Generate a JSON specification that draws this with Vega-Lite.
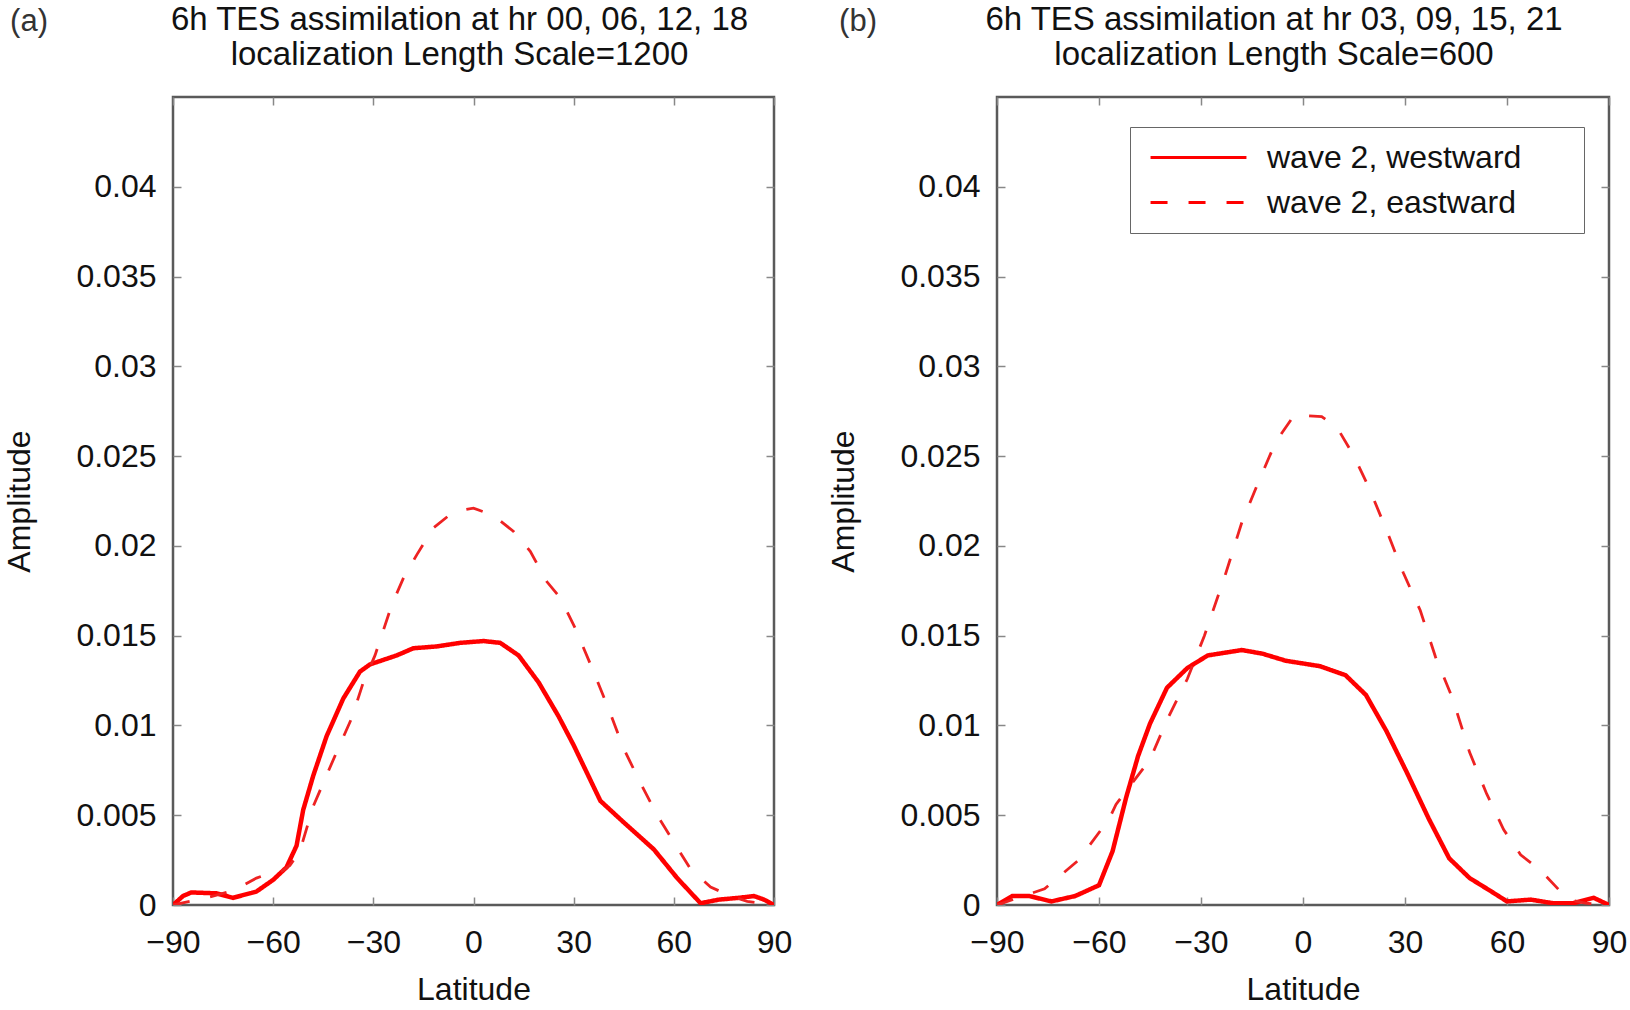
{
  "$schema": "https://vega.github.io/schema/vega-lite/v6.json",
  "background": "white",
  "padding": {"left": 2, "top": 2, "right": 2, "bottom": 2},
  "datasets": {
    "amp": [
      {"panel": "a", "series": "wave 2, westward", "lat": -90, "amp": 0},
      {"panel": "a", "series": "wave 2, westward", "lat": -87, "amp": 0.0005},
      {"panel": "a", "series": "wave 2, westward", "lat": -84.5, "amp": 0.0007},
      {"panel": "a", "series": "wave 2, westward", "lat": -77, "amp": 0.00065},
      {"panel": "a", "series": "wave 2, westward", "lat": -72, "amp": 0.0004},
      {"panel": "a", "series": "wave 2, westward", "lat": -65, "amp": 0.00075},
      {"panel": "a", "series": "wave 2, westward", "lat": -60, "amp": 0.0014},
      {"panel": "a", "series": "wave 2, westward", "lat": -56, "amp": 0.0021},
      {"panel": "a", "series": "wave 2, westward", "lat": -53, "amp": 0.0033},
      {"panel": "a", "series": "wave 2, westward", "lat": -51, "amp": 0.0053},
      {"panel": "a", "series": "wave 2, westward", "lat": -48, "amp": 0.0072},
      {"panel": "a", "series": "wave 2, westward", "lat": -44, "amp": 0.0094},
      {"panel": "a", "series": "wave 2, westward", "lat": -39, "amp": 0.0115},
      {"panel": "a", "series": "wave 2, westward", "lat": -34, "amp": 0.013},
      {"panel": "a", "series": "wave 2, westward", "lat": -31, "amp": 0.0134},
      {"panel": "a", "series": "wave 2, westward", "lat": -23, "amp": 0.0139},
      {"panel": "a", "series": "wave 2, westward", "lat": -18, "amp": 0.0143},
      {"panel": "a", "series": "wave 2, westward", "lat": -11, "amp": 0.0144},
      {"panel": "a", "series": "wave 2, westward", "lat": -4, "amp": 0.0146},
      {"panel": "a", "series": "wave 2, westward", "lat": 3, "amp": 0.0147},
      {"panel": "a", "series": "wave 2, westward", "lat": 8, "amp": 0.0146},
      {"panel": "a", "series": "wave 2, westward", "lat": 13.5, "amp": 0.0139},
      {"panel": "a", "series": "wave 2, westward", "lat": 19.5, "amp": 0.0124},
      {"panel": "a", "series": "wave 2, westward", "lat": 25.5, "amp": 0.0105},
      {"panel": "a", "series": "wave 2, westward", "lat": 30, "amp": 0.0089},
      {"panel": "a", "series": "wave 2, westward", "lat": 38, "amp": 0.0058},
      {"panel": "a", "series": "wave 2, westward", "lat": 45, "amp": 0.0046},
      {"panel": "a", "series": "wave 2, westward", "lat": 54, "amp": 0.0031},
      {"panel": "a", "series": "wave 2, westward", "lat": 61, "amp": 0.0015},
      {"panel": "a", "series": "wave 2, westward", "lat": 68, "amp": 0.0001},
      {"panel": "a", "series": "wave 2, westward", "lat": 73.5, "amp": 0.0003},
      {"panel": "a", "series": "wave 2, westward", "lat": 79.5, "amp": 0.0004},
      {"panel": "a", "series": "wave 2, westward", "lat": 84, "amp": 0.0005},
      {"panel": "a", "series": "wave 2, westward", "lat": 87, "amp": 0.0003},
      {"panel": "a", "series": "wave 2, westward", "lat": 90, "amp": 0},
      {"panel": "a", "series": "wave 2, eastward", "lat": -90, "amp": 0},
      {"panel": "a", "series": "wave 2, eastward", "lat": -85, "amp": 0.0002},
      {"panel": "a", "series": "wave 2, eastward", "lat": -80, "amp": 0.0004},
      {"panel": "a", "series": "wave 2, eastward", "lat": -72, "amp": 0.0008},
      {"panel": "a", "series": "wave 2, eastward", "lat": -65, "amp": 0.0015},
      {"panel": "a", "series": "wave 2, eastward", "lat": -62, "amp": 0.0017},
      {"panel": "a", "series": "wave 2, eastward", "lat": -58, "amp": 0.0018},
      {"panel": "a", "series": "wave 2, eastward", "lat": -55, "amp": 0.0022},
      {"panel": "a", "series": "wave 2, eastward", "lat": -52, "amp": 0.003},
      {"panel": "a", "series": "wave 2, eastward", "lat": -48, "amp": 0.0055},
      {"panel": "a", "series": "wave 2, eastward", "lat": -41.5, "amp": 0.0083},
      {"panel": "a", "series": "wave 2, eastward", "lat": -36.5, "amp": 0.0104},
      {"panel": "a", "series": "wave 2, eastward", "lat": -33, "amp": 0.0124},
      {"panel": "a", "series": "wave 2, eastward", "lat": -29.5, "amp": 0.0139},
      {"panel": "a", "series": "wave 2, eastward", "lat": -24.5, "amp": 0.0167},
      {"panel": "a", "series": "wave 2, eastward", "lat": -21, "amp": 0.0182},
      {"panel": "a", "series": "wave 2, eastward", "lat": -17, "amp": 0.0195},
      {"panel": "a", "series": "wave 2, eastward", "lat": -12, "amp": 0.021},
      {"panel": "a", "series": "wave 2, eastward", "lat": -6, "amp": 0.0219},
      {"panel": "a", "series": "wave 2, eastward", "lat": 0, "amp": 0.0221},
      {"panel": "a", "series": "wave 2, eastward", "lat": 6, "amp": 0.0217},
      {"panel": "a", "series": "wave 2, eastward", "lat": 12, "amp": 0.0208},
      {"panel": "a", "series": "wave 2, eastward", "lat": 17, "amp": 0.0197},
      {"panel": "a", "series": "wave 2, eastward", "lat": 22, "amp": 0.018},
      {"panel": "a", "series": "wave 2, eastward", "lat": 26, "amp": 0.0171},
      {"panel": "a", "series": "wave 2, eastward", "lat": 30.5, "amp": 0.0154},
      {"panel": "a", "series": "wave 2, eastward", "lat": 35.5, "amp": 0.0132},
      {"panel": "a", "series": "wave 2, eastward", "lat": 40.5, "amp": 0.0109},
      {"panel": "a", "series": "wave 2, eastward", "lat": 45, "amp": 0.0087},
      {"panel": "a", "series": "wave 2, eastward", "lat": 50, "amp": 0.0068},
      {"panel": "a", "series": "wave 2, eastward", "lat": 55, "amp": 0.005},
      {"panel": "a", "series": "wave 2, eastward", "lat": 60, "amp": 0.0035},
      {"panel": "a", "series": "wave 2, eastward", "lat": 65, "amp": 0.002},
      {"panel": "a", "series": "wave 2, eastward", "lat": 71, "amp": 0.001},
      {"panel": "a", "series": "wave 2, eastward", "lat": 77, "amp": 0.0005},
      {"panel": "a", "series": "wave 2, eastward", "lat": 82, "amp": 0.0002},
      {"panel": "a", "series": "wave 2, eastward", "lat": 90, "amp": 0},
      {"panel": "b", "series": "wave 2, westward", "lat": -90, "amp": 0},
      {"panel": "b", "series": "wave 2, westward", "lat": -85.5, "amp": 0.0005},
      {"panel": "b", "series": "wave 2, westward", "lat": -80.5, "amp": 0.0005},
      {"panel": "b", "series": "wave 2, westward", "lat": -74, "amp": 0.0002},
      {"panel": "b", "series": "wave 2, westward", "lat": -67, "amp": 0.0005},
      {"panel": "b", "series": "wave 2, westward", "lat": -60, "amp": 0.0011},
      {"panel": "b", "series": "wave 2, westward", "lat": -56, "amp": 0.003},
      {"panel": "b", "series": "wave 2, westward", "lat": -52, "amp": 0.006},
      {"panel": "b", "series": "wave 2, westward", "lat": -48.5, "amp": 0.0083},
      {"panel": "b", "series": "wave 2, westward", "lat": -45, "amp": 0.0101},
      {"panel": "b", "series": "wave 2, westward", "lat": -40, "amp": 0.0121},
      {"panel": "b", "series": "wave 2, westward", "lat": -34, "amp": 0.0132},
      {"panel": "b", "series": "wave 2, westward", "lat": -28, "amp": 0.0139},
      {"panel": "b", "series": "wave 2, westward", "lat": -18, "amp": 0.0142},
      {"panel": "b", "series": "wave 2, westward", "lat": -12, "amp": 0.014},
      {"panel": "b", "series": "wave 2, westward", "lat": -5, "amp": 0.0136},
      {"panel": "b", "series": "wave 2, westward", "lat": 5, "amp": 0.0133},
      {"panel": "b", "series": "wave 2, westward", "lat": 12.5, "amp": 0.0128},
      {"panel": "b", "series": "wave 2, westward", "lat": 18.5, "amp": 0.0117},
      {"panel": "b", "series": "wave 2, westward", "lat": 24.5, "amp": 0.0097},
      {"panel": "b", "series": "wave 2, westward", "lat": 30.5, "amp": 0.0074},
      {"panel": "b", "series": "wave 2, westward", "lat": 37, "amp": 0.0048},
      {"panel": "b", "series": "wave 2, westward", "lat": 43, "amp": 0.0026},
      {"panel": "b", "series": "wave 2, westward", "lat": 49, "amp": 0.0015},
      {"panel": "b", "series": "wave 2, westward", "lat": 55, "amp": 0.0008},
      {"panel": "b", "series": "wave 2, westward", "lat": 60, "amp": 0.0002},
      {"panel": "b", "series": "wave 2, westward", "lat": 67, "amp": 0.0003},
      {"panel": "b", "series": "wave 2, westward", "lat": 73.5, "amp": 0.0001},
      {"panel": "b", "series": "wave 2, westward", "lat": 79.5, "amp": 0.0001},
      {"panel": "b", "series": "wave 2, westward", "lat": 85.5, "amp": 0.0004},
      {"panel": "b", "series": "wave 2, westward", "lat": 90, "amp": 0},
      {"panel": "b", "series": "wave 2, eastward", "lat": -90, "amp": 0},
      {"panel": "b", "series": "wave 2, eastward", "lat": -76, "amp": 0.0009},
      {"panel": "b", "series": "wave 2, eastward", "lat": -66, "amp": 0.0025},
      {"panel": "b", "series": "wave 2, eastward", "lat": -57, "amp": 0.0048},
      {"panel": "b", "series": "wave 2, eastward", "lat": -55, "amp": 0.0056},
      {"panel": "b", "series": "wave 2, eastward", "lat": -45, "amp": 0.0081},
      {"panel": "b", "series": "wave 2, eastward", "lat": -40, "amp": 0.0103},
      {"panel": "b", "series": "wave 2, eastward", "lat": -34, "amp": 0.0126},
      {"panel": "b", "series": "wave 2, eastward", "lat": -29, "amp": 0.015},
      {"panel": "b", "series": "wave 2, eastward", "lat": -23, "amp": 0.0183},
      {"panel": "b", "series": "wave 2, eastward", "lat": -18, "amp": 0.0213},
      {"panel": "b", "series": "wave 2, eastward", "lat": -13, "amp": 0.0236},
      {"panel": "b", "series": "wave 2, eastward", "lat": -8, "amp": 0.0258},
      {"panel": "b", "series": "wave 2, eastward", "lat": -2.5, "amp": 0.0273},
      {"panel": "b", "series": "wave 2, eastward", "lat": 5.5, "amp": 0.0272},
      {"panel": "b", "series": "wave 2, eastward", "lat": 10, "amp": 0.0266},
      {"panel": "b", "series": "wave 2, eastward", "lat": 15, "amp": 0.025},
      {"panel": "b", "series": "wave 2, eastward", "lat": 19.5, "amp": 0.0232},
      {"panel": "b", "series": "wave 2, eastward", "lat": 24.5, "amp": 0.0209},
      {"panel": "b", "series": "wave 2, eastward", "lat": 29.5, "amp": 0.0185},
      {"panel": "b", "series": "wave 2, eastward", "lat": 34.5, "amp": 0.0164},
      {"panel": "b", "series": "wave 2, eastward", "lat": 39, "amp": 0.0138},
      {"panel": "b", "series": "wave 2, eastward", "lat": 44, "amp": 0.0115},
      {"panel": "b", "series": "wave 2, eastward", "lat": 49, "amp": 0.0085},
      {"panel": "b", "series": "wave 2, eastward", "lat": 54, "amp": 0.0062},
      {"panel": "b", "series": "wave 2, eastward", "lat": 59, "amp": 0.0042},
      {"panel": "b", "series": "wave 2, eastward", "lat": 64, "amp": 0.0028},
      {"panel": "b", "series": "wave 2, eastward", "lat": 70, "amp": 0.0019},
      {"panel": "b", "series": "wave 2, eastward", "lat": 75, "amp": 0.0009},
      {"panel": "b", "series": "wave 2, eastward", "lat": 78, "amp": 0.0003},
      {"panel": "b", "series": "wave 2, eastward", "lat": 83, "amp": 0.0001},
      {"panel": "b", "series": "wave 2, eastward", "lat": 90, "amp": 0}
    ]
  },
  "data": {"name": "amp"},
  "spacing": 32,
  "hconcat": [
    {
      "width": 601,
      "height": 808,
      "title": {"text": ["6h TES assimilation at hr 00, 06, 12, 18", "localization Length Scale=1200"], "dx": -14},
      "layer": [
        {
          "transform": [{"filter": "datum.panel == 'a' && datum.series == 'wave 2, westward'"}],
          "mark": {"type": "line", "color": "#ff0000", "strokeWidth": 4.5, "clip": true},
          "encoding": {
            "x": {"field": "lat", "type": "quantitative", "title": "Latitude", "scale": {"domain": [-90, 90], "nice": false}, "axis": {"values": [-90, -60, -30, 0, 30, 60, 90]}},
            "y": {"field": "amp", "type": "quantitative", "title": "Amplitude", "scale": {"domain": [0, 0.045], "nice": false}, "axis": {"values": [0, 0.005, 0.01, 0.015, 0.02, 0.025, 0.03, 0.035, 0.04]}},
            "strokeDash": {"field": "series", "type": "nominal", "scale": {"domain": ["wave 2, westward", "wave 2, eastward"], "range": [[1, 0], [17, 21]]}, "legend": null}
          }
        },
        {
          "transform": [{"filter": "datum.panel == 'a' && datum.series == 'wave 2, eastward'"}],
          "mark": {"type": "line", "color": "#ee2222", "strokeWidth": 2.8, "clip": true},
          "encoding": {
            "x": {"field": "lat", "type": "quantitative", "scale": {"domain": [-90, 90], "nice": false}, "axis": {"orient": "top", "values": [-90, -60, -30, 0, 30, 60, 90], "labels": false, "title": null}},
            "y": {"field": "amp", "type": "quantitative", "scale": {"domain": [0, 0.045], "nice": false}, "axis": {"orient": "right", "values": [0, 0.005, 0.01, 0.015, 0.02, 0.025, 0.03, 0.035, 0.04], "labels": false, "title": null}},
            "strokeDash": {"field": "series", "type": "nominal", "scale": {"domain": ["wave 2, westward", "wave 2, eastward"], "range": [[1, 0], [17, 21]]}, "legend": null}
          }
        },
        {
          "transform": [{"filter": "datum.panel == 'a' && datum.series == 'wave 2, westward' && datum.lat == -90"}],
          "mark": {"type": "text", "text": "(a)", "fontSize": 31, "dx": -144, "dy": -75, "align": "center", "baseline": "middle", "color": "#333"},
          "encoding": {
            "x": {"datum": -90, "type": "quantitative", "scale": {"domain": [-90, 90], "nice": false}, "axis": null},
            "y": {"datum": 0.045, "type": "quantitative", "scale": {"domain": [0, 0.045], "nice": false}, "axis": null}
          }
        }
      ],
      "resolve": {"scale": {"x": "independent", "y": "independent"}, "axis": {"x": "independent", "y": "independent"}}
    },
    {
      "width": 612,
      "height": 808,
      "title": {"text": ["6h TES assimilation at hr 03, 09, 15, 21", "localization Length Scale=600"], "dx": -29},
      "layer": [
        {
          "transform": [{"filter": "datum.panel == 'b' && datum.series == 'wave 2, westward'"}],
          "mark": {"type": "line", "color": "#ff0000", "strokeWidth": 4.5, "clip": true},
          "encoding": {
            "x": {"field": "lat", "type": "quantitative", "title": "Latitude", "scale": {"domain": [-90, 90], "nice": false}, "axis": {"values": [-90, -60, -30, 0, 30, 60, 90]}},
            "y": {"field": "amp", "type": "quantitative", "title": "Amplitude", "scale": {"domain": [0, 0.045], "nice": false}, "axis": {"values": [0, 0.005, 0.01, 0.015, 0.02, 0.025, 0.03, 0.035, 0.04]}},
            "strokeDash": {"field": "series", "type": "nominal", "scale": {"domain": ["wave 2, westward", "wave 2, eastward"], "range": [[1, 0], [17, 21]]}, "legend": {"title": "\u00a0", "titleOrient": "right", "titlePadding": 54, "titleFontSize": 10}}
          }
        },
        {
          "transform": [{"filter": "datum.panel == 'b' && datum.series == 'wave 2, eastward'"}],
          "mark": {"type": "line", "color": "#ee2222", "strokeWidth": 2.8, "clip": true},
          "encoding": {
            "x": {"field": "lat", "type": "quantitative", "scale": {"domain": [-90, 90], "nice": false}, "axis": {"orient": "top", "values": [-90, -60, -30, 0, 30, 60, 90], "labels": false, "title": null}},
            "y": {"field": "amp", "type": "quantitative", "scale": {"domain": [0, 0.045], "nice": false}, "axis": {"orient": "right", "values": [0, 0.005, 0.01, 0.015, 0.02, 0.025, 0.03, 0.035, 0.04], "labels": false, "title": null}},
            "strokeDash": {"field": "series", "type": "nominal", "scale": {"domain": ["wave 2, westward", "wave 2, eastward"], "range": [[1, 0], [17, 21]]}, "legend": {"title": "\u00a0", "titleOrient": "right", "titlePadding": 54, "titleFontSize": 10}}
          }
        },
        {
          "transform": [{"filter": "datum.panel == 'b' && datum.series == 'wave 2, westward' && datum.lat == -90"}],
          "mark": {"type": "text", "text": "(b)", "fontSize": 31, "dx": -139, "dy": -75, "align": "center", "baseline": "middle", "color": "#333"},
          "encoding": {
            "x": {"datum": -90, "type": "quantitative", "scale": {"domain": [-90, 90], "nice": false}, "axis": null},
            "y": {"datum": 0.045, "type": "quantitative", "scale": {"domain": [0, 0.045], "nice": false}, "axis": null}
          }
        }
      ],
      "resolve": {"scale": {"x": "independent", "y": "independent"}, "axis": {"x": "independent", "y": "independent"}}
    }
  ],
  "resolve": {"scale": {"strokeDash": "independent"}, "legend": {"strokeDash": "independent"}},
  "config": {
    "font": "Liberation Sans",
    "view": {"stroke": "#5a5a5a", "strokeWidth": 2.5},
    "title": {"fontSize": 33, "fontWeight": "normal", "color": "#111", "lineHeight": 35, "offset": -66, "anchor": "middle", "frame": "group"},
    "axis": {
      "domain": false,
      "grid": false,
      "ticks": true,
      "tickSize": -8,
      "tickColor": "#888",
      "tickWidth": 1.5,
      "labelFontSize": 32,
      "labelColor": "#111",
      "labelPadding": 25,
      "labelFlush": false,
      "labelOverlap": false,
      "titleFontSize": 32,
      "titleFontWeight": "normal",
      "titleColor": "#111"
    },
    "axisX": {"labelPadding": 30, "titlePadding": 16, "format": "d"},
    "axisY": {"titlePadding": 39, "format": "~r"},
    "legend": {
      "orient": "none",
      "legendX": 133,
      "legendY": 30,
      "padding": 9,
      "strokeColor": "#666",
      "fillColor": "white",
      "symbolType": "stroke",
      "symbolStrokeColor": "#ff0000",
      "symbolStrokeWidth": 3,
      "symbolSize": 9200,
      "symbolOffset": 10,
      "clipHeight": 43,
      "labelFontSize": 32,
      "labelColor": "#111",
      "labelOffset": 19,
      "labelLimit": 500
    }
  }
}
